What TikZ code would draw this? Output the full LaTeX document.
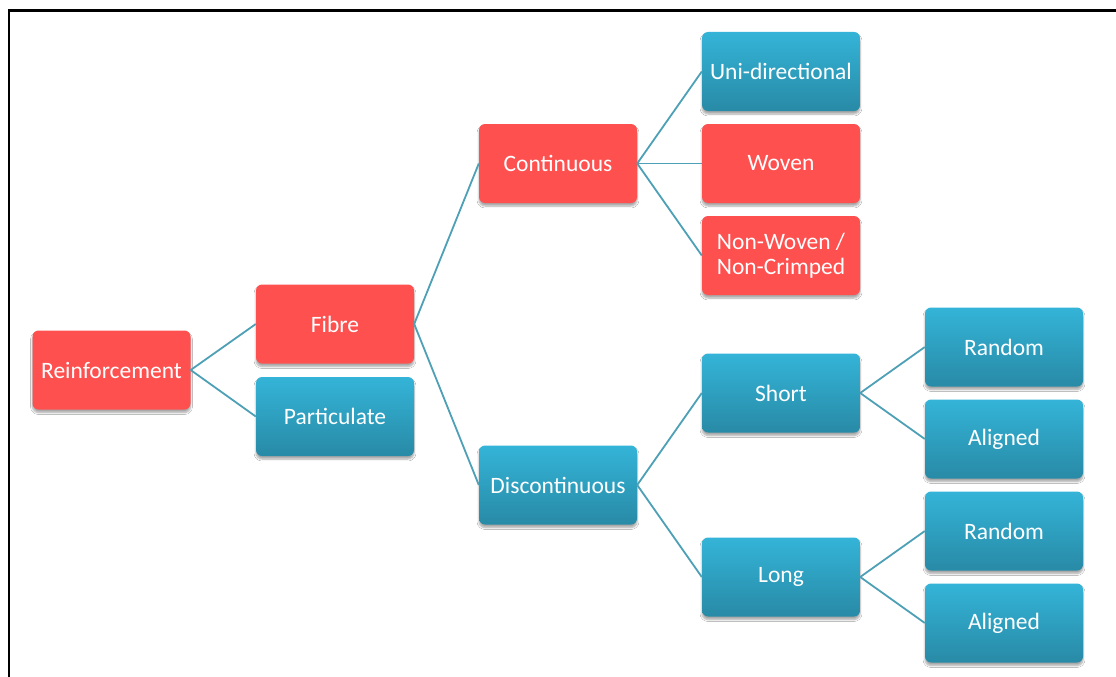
\documentclass[tikz,border=0pt]{standalone}
\usepackage{fontspec}
\setmainfont{Carlito}
\usetikzlibrary{shadows.blur}
\definecolor{boxred}{RGB}{255,80,80}
\definecolor{bluetop}{RGB}{52,180,216}
\definecolor{bluebot}{RGB}{40,138,166}
\definecolor{linkcol}{RGB}{78,160,182}
\tikzset{
  x=1pt, y=-1pt,
  cell/.style={rounded corners=6pt, minimum width=158pt, minimum height=79pt,
    inner sep=2pt, align=center, text=white,
    font=\fontsize{23.5}{25}\selectfont,
    blur shadow={shadow xshift=0pt, shadow yshift=-3pt, shadow blur steps=6, shadow opacity=35}},
  redcell/.style={cell, fill=boxred},
  bluecell/.style={cell, top color=bluetop, bottom color=bluebot},
  link/.style={draw=linkcol, line width=1.8pt},
}
\begin{document}
\begin{tikzpicture}
\useasboundingbox (0,0) rectangle (1116,677);
\fill[white] (0,0) rectangle (1116,677);
% frame
\draw[line width=2.2pt, black] (9,677) -- (9,10.5) -- (1116,10.5);

% nodes
\node[redcell]  (reinf) at (111.5,370) {Reinforcement};
\node[redcell]  (fibre) at (335,324) {Fibre};
\node[bluecell] (part)  at (335,416.5) {Particulate};
\node[redcell]  (cont)  at (558,163.5) {Continuous};
\node[bluecell] (disc)  at (558,485) {Discontinuous};
\node[bluecell] (uni)   at (781,71.5) {Uni-directional};
\node[redcell]  (woven) at (781,163.5) {Woven};
\node[redcell]  (nonw)  at (781,255.5) {Non-Woven /\\Non-Crimped};
\node[bluecell] (short) at (781,393) {Short};
\node[bluecell] (long)  at (781,577) {Long};
\node[bluecell] (rand1) at (1004,347) {Random};
\node[bluecell] (alig1) at (1004,439) {Aligned};
\node[bluecell] (rand2) at (1004,531) {Random};
\node[bluecell] (alig2) at (1004,623) {Aligned};

% connectors
\draw[link] (reinf.east) -- (fibre.west);
\draw[link] (reinf.east) -- (part.west);
\draw[link] (fibre.east) -- (cont.west);
\draw[link] (fibre.east) -- (disc.west);
\draw[link] (cont.east) -- (uni.west);
\draw[link] (cont.east) -- (woven.west);
\draw[link] (cont.east) -- (nonw.west);
\draw[link] (disc.east) -- (short.west);
\draw[link] (disc.east) -- (long.west);
\draw[link] (short.east) -- (rand1.west);
\draw[link] (short.east) -- (alig1.west);
\draw[link] (long.east) -- (rand2.west);
\draw[link] (long.east) -- (alig2.west);
\end{tikzpicture}
\end{document}
